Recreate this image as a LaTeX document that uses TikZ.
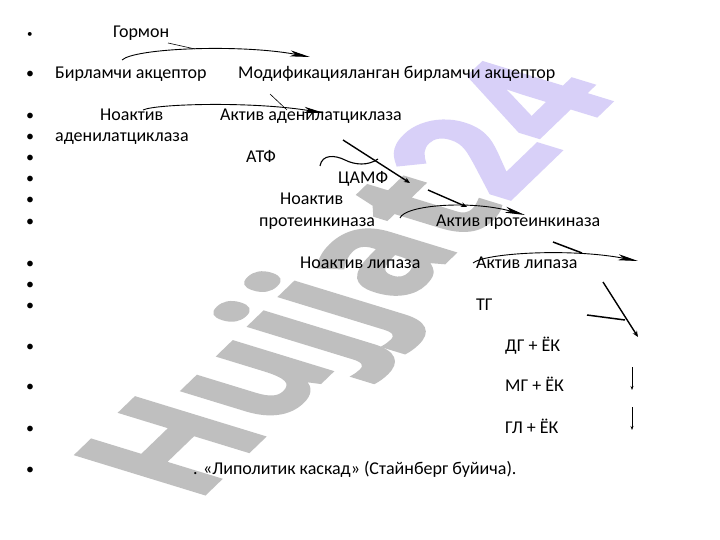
\documentclass[tikz,border=0pt]{standalone}
\usepackage{fontspec}
\setmainfont{Carlito}
\newfontfamily\wmfont[BoldFeatures={FakeBold=2}]{Open Sans}
\usetikzlibrary{arrows.meta}
\definecolor{wmgrey}{RGB}{191,191,191}
\definecolor{wmlav}{RGB}{216,208,248}
\tikzset{
  lbl/.style={anchor=base west, inner sep=0pt, font=\fontsize{18}{21}\selectfont},
  bul/.style={anchor=base west, inner sep=0pt, font=\fontsize{16}{18}\selectfont},
  smallbul/.style={anchor=base west, inner sep=0pt, font=\fontsize{11}{13}\selectfont},
  thinline/.style={line width=0.6pt},
  curvearrow/.style={line width=0.9pt, -{Stealth[length=20pt,width=6pt,inset=5pt]}},
  diagarrow/.style={line width=1.4pt, -{Stealth[length=6pt,width=5pt]}},
  barline/.style={line width=1.5pt},
  downarrow/.style={line width=0.6pt, -{Stealth[length=4pt,width=3pt]}},
  wmtext/.style={transform shape, inner sep=0pt, font=\wmfont\bfseries\fontsize{112}{112}\selectfont}
}
\begin{document}
\begin{tikzpicture}[x=1pt,y=-1pt]
\useasboundingbox (0,0) rectangle (720,540);
\fill[white] (0,0) rectangle (720,540);
% watermark
\begin{scope}[shift={(362,283)}, cm={0.903,0.871,-1.603,0.491,(0,0)}]
  \node[wmtext] (wm) at (0,0) {\textcolor{wmgrey}{Hujjat}\textcolor{wmlav}{24}};
\end{scope}
% bullets
\node[smallbul] (b1) at (27,38) {•};
\foreach \n/\by in {b2/79,b3/121,b4/142,b5/163,b6/184,b7/205,b8/226,b9/268,b10/289,b11/310,b12/351,b13/391,b14/433,b15/474}
  \node[bul] (\n) at (26,\by) {•};
% texts
\node[lbl] (gormon) at (113,38) {Гормон};
\node[lbl] (birl) at (55,79) {Бирламчи акцептор};
\node[lbl] (modif) at (238,79) {Модификацияланган бирламчи акцептор};
\node[lbl] (noakt1) at (100,121) {Ноактив};
\node[lbl] (aktadc) at (220,121) {Актив аденилатциклаза};
\node[lbl] (adc) at (55,142) {аденилатциклаза};
\node[lbl] (atf) at (246,163) {АТФ};
\node[lbl] (camf) at (338,184) {ЦАМФ};
\node[lbl] (noakt2) at (280,205) {Ноактив};
\node[lbl] (pk) at (259,226) {протеинкиназа};
\node[lbl] (aktpk) at (436,226) {Актив протеинкиназа};
\node[lbl] (noaktlip) at (300,268) {Ноактив липаза};
\node[lbl] (aktlip) at (476,268) {Актив липаза};
\node[lbl] (tg) at (476,310) {ТГ};
\node[lbl] (dg) at (505,351) {ДГ + ЁК};
\node[lbl] (mg) at (505,391) {МГ + ЁК};
\node[lbl] (gl) at (505,433) {ГЛ + ЁК};
\node[lbl] (caption) at (193,474) {. «Липолитик каскад» (Стайнберг буйича).};
% connector points
\coordinate (a1s) at (168,43); \coordinate (a1e) at (195,49);
\coordinate (c1s) at (122,60); \coordinate (c1e) at (310,57);
\coordinate (a2s) at (270,94); \coordinate (a2e) at (287,110);
\coordinate (c2s) at (143,110); \coordinate (c2e) at (324,113);
\coordinate (d3s) at (343,140); \coordinate (d3e) at (410,183);
\coordinate (w3s) at (320,166); \coordinate (w3m) at (345,160); \coordinate (w3e) at (378,159);
\coordinate (d4s) at (428,190); \coordinate (d4e) at (467,207);
\coordinate (c4s) at (400,218); \coordinate (c4e) at (525,215);
\coordinate (l5s) at (553,242); \coordinate (l5e) at (582,253);
\coordinate (c5s) at (473,263); \coordinate (c5e) at (638,261);
\coordinate (d6s) at (603,282); \coordinate (d6e) at (638,337);
\coordinate (l6s) at (587,315); \coordinate (l6e) at (625,320);
\coordinate (v1s) at (632,367); \coordinate (v1e) at (632,390);
\coordinate (v2s) at (632,407); \coordinate (v2e) at (632,430);
% connectors
\draw[thinline] (a1s) -- (a1e);
\draw[curvearrow] (c1s) .. controls (135,48) and (240,44) .. (c1e);
\draw[thinline] (a2s) -- (a2e);
\draw[curvearrow] (c2s) .. controls (155,104) and (250,101) .. (c2e);
\draw[diagarrow] (d3s) -- (d3e);
\draw[line width=1.1pt] (w3s) .. controls (322,154) and (335,155) .. (w3m) .. controls (355,165) and (368,166) .. (w3e);
\draw[diagarrow] (d4s) -- (d4e);
\draw[curvearrow] (c4s) .. controls (405,205) and (470,200) .. (c4e);
\draw[barline] (l5s) -- (l5e);
\draw[curvearrow] (c5s) .. controls (485,253) and (570,248) .. (c5e);
\draw[diagarrow] (d6s) -- (d6e);
\draw[barline] (l6s) -- (l6e);
\draw[downarrow] (v1s) -- (v1e);
\draw[downarrow] (v2s) -- (v2e);
\end{tikzpicture}
\end{document}
